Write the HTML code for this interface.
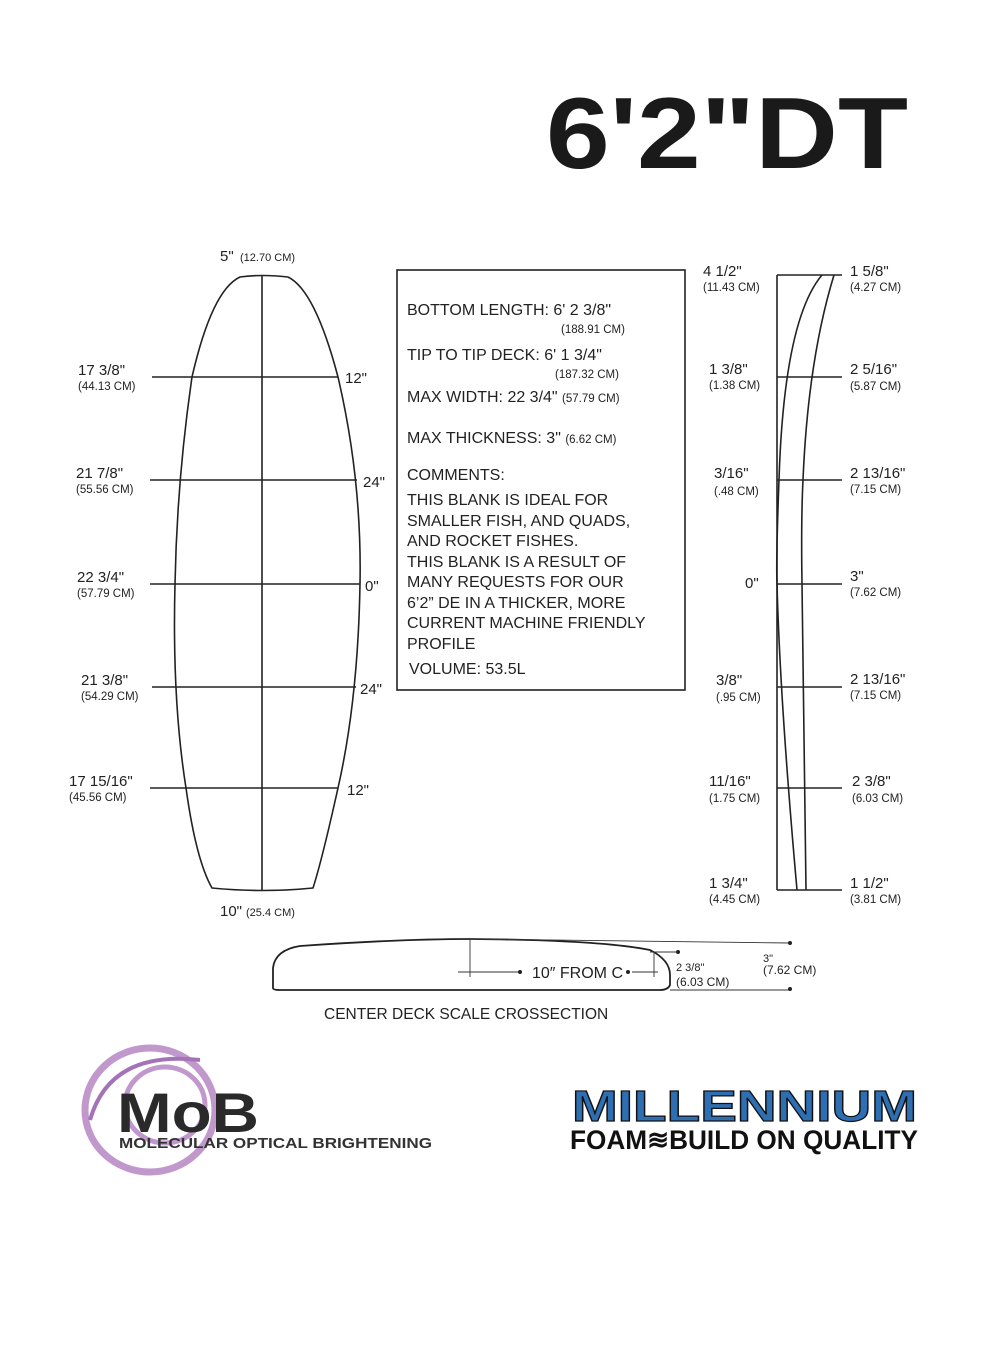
<!DOCTYPE html>
<html><head><style>body{margin:0;background:#fff}svg{display:block}text{font-family:"Liberation Sans",Arial,sans-serif;fill:#222}</style></head>
<body>
<svg width="1000" height="1350" viewBox="0 0 1000 1350">
<text x="546" y="168" font-size="101" font-weight="bold" textLength="362" lengthAdjust="spacingAndGlyphs" style="fill:#1a1a1a">6'2"DT</text>

<g stroke="#222" stroke-width="1.6" fill="none">
<path d="M240,277 Q262,274 288,277 Q315,290 338,377 Q362,480 360,584 Q358,700 338,788 Q322,860 313,888 Q262,893 212,888 Q196,860 186,788 Q172,700 175,584 Q177,480 192,377 Q212,290 240,277 Z"/>
<line x1="262" y1="276" x2="262" y2="890"/>
<line x1="152" y1="377" x2="338" y2="377"/>
<line x1="150" y1="480" x2="357" y2="480"/>
<line x1="150" y1="584" x2="360" y2="584"/>
<line x1="152" y1="687" x2="356" y2="687"/>
<line x1="150" y1="788" x2="338" y2="788"/>
<rect x="397" y="270" width="288" height="420"/>
<line x1="777" y1="275" x2="777" y2="890"/>
<path d="M822,275 Q784,320 779,480 Q776,560 777,584 Q780,700 797,890"/>
<path d="M834,275 Q808,360 803,480 Q801,520 802,584 L806,890"/>
<line x1="777" y1="275" x2="842" y2="275"/>
<line x1="777" y1="377" x2="842" y2="377"/>
<line x1="777" y1="480" x2="842" y2="480"/>
<line x1="777" y1="584" x2="842" y2="584"/>
<line x1="777" y1="687" x2="842" y2="687"/>
<line x1="777" y1="788" x2="842" y2="788"/>
<line x1="777" y1="890" x2="842" y2="890"/>
<path d="M273,988 L273,968 Q275,950 300,946 Q400,939 470,939 Q600,940 650,950 Q670,960 670,975 L670,985 Q668,990 660,990 L280,990 Q273,990 273,988 Z" stroke-width="1.8"/>
</g>
<g stroke="#333" stroke-width="0.9" fill="none">
<line x1="470" y1="939" x2="470" y2="977"/>
<line x1="458" y1="972" x2="520" y2="972"/>
<line x1="632" y1="972" x2="658" y2="972"/>
<line x1="654" y1="952" x2="654" y2="977"/>
<line x1="650" y1="952" x2="678" y2="952"/>
<line x1="470" y1="939" x2="790" y2="943"/>
<line x1="670" y1="990" x2="790" y2="990"/>
</g>
<g fill="#222"><circle cx="520" cy="972" r="2"/><circle cx="628" cy="972" r="2"/><circle cx="678" cy="952" r="2"/><circle cx="790" cy="943" r="2"/><circle cx="790" cy="989" r="2"/></g>
<text x="532" y="978" font-size="16">10″ FROM C</text>
<text x="676" y="971" font-size="11">2 3/8"</text><text x="676" y="986" font-size="12">(6.03 CM)</text>
<text x="763" y="962" font-size="11">3"</text><text x="763" y="974" font-size="12">(7.62 CM)</text>
<text x="324" y="1019" font-size="15.5">CENTER DECK SCALE CROSSECTION</text>

<g font-size="15">
<text x="220" y="261">5"</text><text x="240" y="261" font-size="11">(12.70 CM)</text>
<text x="78" y="375">17 3/8"</text><text x="78" y="390" font-size="11.5">(44.13 CM)</text>
<text x="76" y="478">21 7/8"</text><text x="76" y="493" font-size="11.5">(55.56 CM)</text>
<text x="77" y="582">22 3/4"</text><text x="77" y="597" font-size="11.5">(57.79 CM)</text>
<text x="81" y="685">21 3/8"</text><text x="81" y="700" font-size="11.5">(54.29 CM)</text>
<text x="69" y="786">17 15/16"</text><text x="69" y="801" font-size="11.5">(45.56 CM)</text>
<text x="345" y="383">12"</text><text x="363" y="487">24"</text><text x="365" y="591">0"</text><text x="360" y="694">24"</text><text x="347" y="795">12"</text>
<text x="220" y="916">10"</text><text x="246" y="916" font-size="11">(25.4 CM)</text>
</g>
<g font-size="16">
<text x="407" y="315">BOTTOM LENGTH: 6' 2 3/8"</text><text x="561" y="333" font-size="11.5">(188.91 CM)</text>
<text x="407" y="360">TIP TO TIP DECK: 6' 1 3/4"</text><text x="555" y="378" font-size="11.5">(187.32 CM)</text>
<text x="407" y="402">MAX WIDTH: 22 3/4" <tspan font-size="11.5">(57.79 CM)</tspan></text>
<text x="407" y="443">MAX THICKNESS: 3" <tspan font-size="11.5">(6.62 CM)</tspan></text>
<text x="407" y="480">COMMENTS:</text>
<text x="407" y="505">THIS BLANK IS IDEAL FOR</text>
<text x="407" y="526">SMALLER FISH, AND QUADS,</text>
<text x="407" y="546">AND ROCKET FISHES.</text>
<text x="407" y="567">THIS BLANK IS A RESULT OF</text>
<text x="407" y="587">MANY REQUESTS FOR OUR</text>
<text x="407" y="608">6’2” DE IN A THICKER, MORE</text>
<text x="407" y="628">CURRENT MACHINE FRIENDLY</text>
<text x="407" y="649">PROFILE</text>
<text x="409" y="674">VOLUME: 53.5L</text>
</g>
<g font-size="15">
<text x="703" y="276">4 1/2"</text><text x="703" y="291" font-size="11.5">(11.43 CM)</text>
<text x="709" y="374">1 3/8"</text><text x="709" y="389" font-size="11.5">(1.38 CM)</text>
<text x="714" y="478">3/16"</text><text x="714" y="495" font-size="11.5">(.48 CM)</text>
<text x="745" y="588">0"</text>
<text x="716" y="685">3/8"</text><text x="716" y="701" font-size="11.5">(.95 CM)</text>
<text x="709" y="786">11/16"</text><text x="709" y="802" font-size="11.5">(1.75 CM)</text>
<text x="709" y="888">1 3/4"</text><text x="709" y="903" font-size="11.5">(4.45 CM)</text>
<text x="850" y="276">1 5/8"</text><text x="850" y="291" font-size="11.5">(4.27 CM)</text>
<text x="850" y="374">2 5/16"</text><text x="850" y="390" font-size="11.5">(5.87 CM)</text>
<text x="850" y="478">2 13/16"</text><text x="850" y="493" font-size="11.5">(7.15 CM)</text>
<text x="850" y="581">3"</text><text x="850" y="596" font-size="11.5">(7.62 CM)</text>
<text x="850" y="684">2 13/16"</text><text x="850" y="699" font-size="11.5">(7.15 CM)</text>
<text x="852" y="786">2 3/8"</text><text x="852" y="802" font-size="11.5">(6.03 CM)</text>
<text x="850" y="888">1 1/2"</text><text x="850" y="903" font-size="11.5">(3.81 CM)</text>
</g>
<g fill="none" stroke="#b27fc0" stroke-width="7" opacity="0.8">
<ellipse cx="150" cy="1110" rx="65" ry="62"/>
<ellipse cx="165" cy="1105" rx="40" ry="38" stroke-width="5"/>
<path d="M90,1120 Q110,1050 200,1060" stroke-width="4" stroke="#8e4fa6"/>
</g>
<text x="117" y="1132" font-size="56" font-weight="bold" textLength="142" lengthAdjust="spacingAndGlyphs" style="fill:#2a2a2a">MoB</text>
<text x="119" y="1148" font-size="15" font-weight="bold" textLength="313" lengthAdjust="spacingAndGlyphs" style="fill:#333">MOLECULAR OPTICAL BRIGHTENING</text>
<text x="572" y="1121" font-size="44" font-weight="bold" textLength="345" lengthAdjust="spacingAndGlyphs" style="fill:#2e6fb3;stroke:#111;stroke-width:1.2">MILLENNIUM</text>
<text x="570" y="1149" font-size="27" textLength="348" lengthAdjust="spacingAndGlyphs" style="fill:#111;font-weight:bold">FOAM≋BUILD ON QUALITY</text>
</svg>
</body></html>
